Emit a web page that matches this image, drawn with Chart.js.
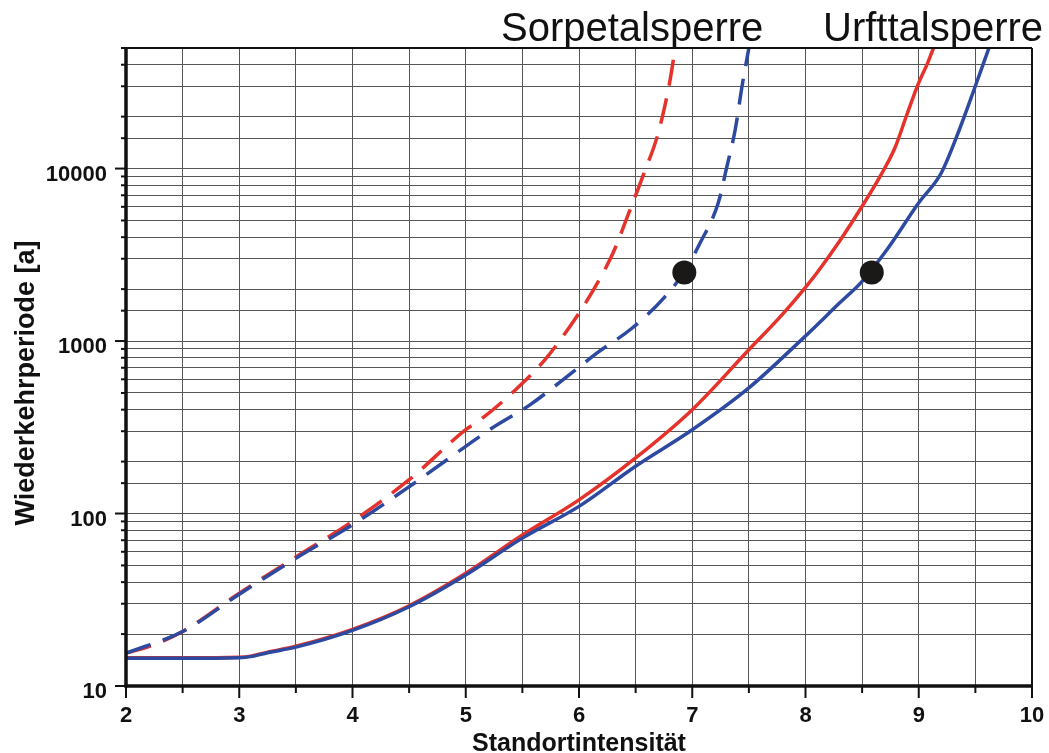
<!DOCTYPE html>
<html>
<head>
<meta charset="utf-8">
<title>Wiederkehrperiode</title>
<script src="https://cdn.jsdelivr.net/npm/chart.js@4.4.1/dist/chart.umd.min.js"></script>
<style>
  body { margin: 0; background: #fff; }
  #wrap { width: 1049px; height: 753px; position: relative; }
</style>
</head>
<body>
<div id="wrap"><canvas id="chart"></canvas></div>
<script>
// --- Data ---
const urftRedX  = [2, 2.5, 3, 3.1, 3.25, 3.5, 4, 4.5, 5, 5.5, 6, 6.5, 7, 7.5, 7.78, 8, 8.1, 8.3, 8.5, 8.66, 8.79, 8.89, 9, 9.08, 9.13];
const urftRedY  = [14.6, 14.6, 14.7, 14.9, 15.7, 17, 21.3, 29.2, 45, 75, 120, 210, 400, 890, 1390, 2050, 2480, 3790, 6050, 9040, 13200, 20100, 31500, 41100, 50000];

const urftBlueX = [2, 2.5, 3, 3.1, 3.25, 3.5, 4, 4.5, 5, 5.5, 6, 6.5, 7, 7.5, 7.98, 8.3, 8.5, 8.72, 9, 9.2, 9.36, 9.5, 9.62];
const urftBlueY = [14.5, 14.5, 14.6, 14.8, 15.6, 16.8, 21, 28.8, 44, 72, 110, 188, 306, 535, 1040, 1660, 2220, 3390, 6330, 9460, 16900, 30100, 50000];

const sorpeRedX = [2, 2.24, 2.5, 3, 3.5, 4, 4.5, 5, 5.13, 5.44, 5.7, 5.92, 6.13, 6.3, 6.44, 6.57, 6.7, 6.8, 6.85];
const sorpeRedY = [15.5, 17.3, 20.7, 34.5, 56, 90, 157, 306, 350, 522, 780, 1216, 1990, 3240, 5530, 9250, 16100, 31500, 50000];

const sorpeBlueX = [2, 2.5, 3, 3.5, 4, 4.5, 5, 5.21, 5.57, 5.86, 6.16, 6.47, 6.75, 6.93, 7.07, 7.23, 7.3, 7.38, 7.44, 7.5];
const sorpeBlueY = [15.5, 20.7, 34, 55, 86, 143, 245, 306, 428, 597, 853, 1190, 1780, 2520, 3710, 6330, 9890, 16900, 30100, 50000];

const dotX = [6.93, 8.585];
const dotY = [2500, 2500];

const damLabels = ['Sorpetalsperre', 'Urfttalsperre'];
const xTitle = 'Standortintensität';
const yTitle = 'Wiederkehrperiode [a]';

const RED = '#e5322b';
const BLUE = '#2d4aa0';
const FONT = '"Liberation Sans", Arial, Helvetica, sans-serif';

function pts(xs, ys) {
    return xs.map((x, i) => ({ x: x, y: ys[i] }));
}

function isDecade(v) {
    const l = Math.log10(v);
    return Math.abs(l - Math.round(l)) < 1e-9;
}

function curve(xs, ys, color, dashed, order) {
    return {
        data: pts(xs, ys),
        borderColor: color,
        borderWidth: 3.5,
        borderDash: dashed ? [26, 13] : [],
        pointRadius: 0,
        fill: false,
        cubicInterpolationMode: 'monotone',
        order: order
    };
}

// frame, tick marks and texts
const decor = {
    id: 'decor',
    afterDraw(chart) {
        const { ctx, chartArea: a, scales } = chart;
        const x = scales.x, y = scales.y;
        ctx.save();
        ctx.strokeStyle = '#111';
        ctx.fillStyle = '#111';

        function seg(x1, y1, x2, y2) {
            ctx.beginPath();
            ctx.moveTo(x1, y1);
            ctx.lineTo(x2, y2);
            ctx.stroke();
        }

        ctx.lineWidth = 2;
        x.ticks.forEach(t => {
            const px = x.getPixelForValue(t.value);
            seg(px, a.bottom, px, a.bottom + (Number.isInteger(t.value) ? 12 : 7));
        });
        y.ticks.forEach(t => {
            const py = y.getPixelForValue(t.value);
            seg(a.left - (isDecade(t.value) ? 11 : 5), py, a.left, py);
        });

        // border
        ctx.lineWidth = 2;
        seg(a.left, a.top, a.right, a.top);
        seg(a.right, a.top, a.right, a.bottom);
        ctx.lineWidth = 3.5;
        seg(a.left, a.top - 1, a.left, a.bottom + 1.5);
        seg(a.left - 1.5, a.bottom, a.right + 1, a.bottom);

        // dam names above plot
        ctx.font = '40px ' + FONT;
        ctx.textAlign = 'left';
        ctx.textBaseline = 'alphabetic';
        ctx.fillText(damLabels[0], 501, 41);
        ctx.fillText(damLabels[1], 823, 41);

        // axis titles
        ctx.font = 'bold 25px ' + FONT;
        ctx.textAlign = 'center';
        ctx.fillText(xTitle, (a.left + a.right) / 2, 751);

        ctx.translate(34, 383);
        ctx.rotate(-Math.PI / 2);
        ctx.font = 'bold 27px ' + FONT;
        ctx.fillText(yTitle, 0, 0);
        ctx.restore();
    }
};

new Chart(document.getElementById('chart').getContext('2d'), {
    type: 'line',
    data: {
        datasets: [
            {
                data: pts(dotX, dotY),
                showLine: false,
                pointRadius: 12,
                pointHoverRadius: 12,
                pointBackgroundColor: '#1b1818',
                pointBorderWidth: 0,
                order: 0
            },
            curve(sorpeBlueX, sorpeBlueY, BLUE, true, 1),
            curve(urftBlueX, urftBlueY, BLUE, false, 1),
            curve(sorpeRedX, sorpeRedY, RED, true, 2),
            curve(urftRedX, urftRedY, RED, false, 2)
        ]
    },
    options: {
        responsive: true,
        maintainAspectRatio: false,
        animation: false,
        layout: { padding: { top: 48, right: 17, left: 0, bottom: 0 } },
        plugins: { legend: { display: false }, tooltip: { enabled: false } },
        scales: {
            x: {
                type: 'linear',
                min: 2,
                max: 10,
                afterFit: s => { s.height = 67; s.paddingLeft = 0; s.paddingRight = 0; },
                grid: { color: '#555', lineWidth: 1, drawTicks: false },
                border: { display: false },
                ticks: {
                    stepSize: 0.5,
                    autoSkip: false,
                    maxRotation: 0,
                    padding: 17,
                    color: '#111',
                    font: { family: FONT, size: 22, weight: 'bold' },
                    callback: v => Number.isInteger(v) ? String(v) : ''
                }
            },
            y: {
                type: 'logarithmic',
                min: 10,
                max: 50000,
                afterFit: s => { s.width = 126; s.paddingTop = 0; s.paddingBottom = 0; },
                grid: { color: '#555', lineWidth: 1, drawTicks: false },
                border: { display: false },
                ticks: {
                    autoSkip: false,
                    padding: 19,
                    labelOffset: 6,
                    color: '#111',
                    font: { family: FONT, size: 22, weight: 'bold' },
                    callback: v => isDecade(v) ? String(v) : ''
                }
            }
        }
    },
    plugins: [decor]
});
</script>
</body>
</html>
